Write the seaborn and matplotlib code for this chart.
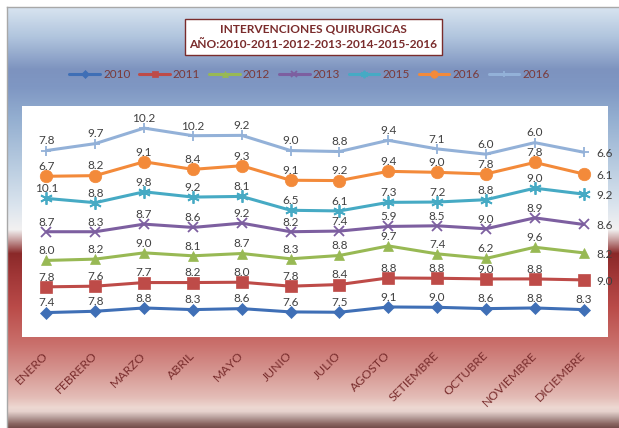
import numpy as np
import pandas as pd
import matplotlib
matplotlib.use("Agg")
import matplotlib.pyplot as plt
import matplotlib.colors as mcolors
import seaborn as sns

months = ['ENERO', 'FEBRERO', 'MARZO', 'ABRIL', 'MAYO', 'JUNIO', 'JULIO',
          'AGOSTO', 'SETIEMBRE', 'OCTUBRE', 'NOVIEMBRE', 'DICIEMBRE']
v2010 = [7.4, 7.8, 8.8, 8.3, 8.6, 7.6, 7.5, 9.1, 9.0, 8.6, 8.8, 8.3]
v2011 = [7.8, 7.6, 7.7, 8.2, 8.0, 7.8, 8.4, 8.8, 8.8, 9.0, 8.8, 9.0]
v2012 = [8.0, 8.2, 9.0, 8.1, 8.7, 8.3, 8.8, 9.7, 7.4, 6.2, 9.6, 8.2]
v2013 = [8.7, 8.3, 8.7, 8.6, 9.2, 8.2, 7.4, 5.9, 8.5, 9.0, 8.9, 8.6]
v2015 = [10.1, 8.8, 9.8, 9.2, 8.1, 6.5, 6.1, 7.3, 7.2, 8.8, 9.0, 9.2]
v2016 = [6.7, 8.2, 9.1, 8.4, 9.3, 9.1, 9.2, 9.4, 9.0, 7.8, 7.8, 6.1]
v2016b = [7.8, 9.7, 10.2, 10.2, 9.2, 9.0, 8.8, 9.4, 7.1, 6.0, 6.0, 6.6]
series_names = ['2010', '2011', '2012', '2013', '2015', '2016', '2016']
series_values = [v2010, v2011, v2012, v2013, v2015, v2016, v2016b]

colors = ['#3F6FB6', '#BE4B48', '#98B954', '#7D5FA0', '#46AAC4', '#F38A3A', '#93B1D8']
markers = ['D', 's', '^', 'x', (6, 2, 0), 'o', '+']
msizes = [6.5, 8, 7.5, 7, 9, 9, 7]

sns.set_theme(style="white")
plt.rcParams['font.family'] = ['Lato', 'DejaVu Sans']

W, H = 619, 428
fig = plt.figure(figsize=(W / 100, H / 100), dpi=100)
fig.patch.set_facecolor('white')

# background gradient of the chart frame
stops = [(0, '#D8E4F0'), (30, '#B0C4DD'), (62, '#7D93BF'), (80, '#7F97C3'),
         (110, '#93AED0'), (160, '#BACDE1'), (200, '#DCE5EE'), (222, '#F2F1F1'),
         (232, '#C9A3A3'), (246, '#8A2929'), (270, '#A23838'), (300, '#BA4B49'),
         (335, '#C96E6A'), (365, '#D69792'), (390, '#E4BDB7'), (400, '#EDD8D2'),
         (404, '#E6D2CD'), (410, '#B8A09C'), (416, '#8C6864'), (421, '#6E4846')]
ys = np.arange(421)
sy = [s[0] for s in stops]
rgb = np.array([mcolors.to_rgb(s[1]) for s in stops])
grad = np.stack([np.interp(ys, sy, rgb[:, k]) for k in range(3)], axis=1)
grad = grad[:, None, :]
bg = fig.add_axes([7 / W, 0, 612 / W, 421 / H])
bg.imshow(grad, aspect='auto', extent=(0, 1, 1, 0), interpolation='bilinear')
bg.set_xlim(0, 1)
bg.set_ylim(1, 0)
bg.set_xticks([])
bg.set_yticks([])
for side in ['right', 'bottom']:
    bg.spines[side].set_visible(False)
for side in ['top', 'left']:
    bg.spines[side].set_color('#A8A8A8')
    bg.spines[side].set_linewidth(1.0)

# plot area
ax = fig.add_axes([22 / W, 1 - 337 / H, 586 / W, 231 / H])
ax.set_facecolor('white')
for s in ax.spines.values():
    s.set_visible(False)

x = np.arange(len(months))
cum = np.cumsum(np.array(series_values), axis=0)
handles = []
for i, (name, vals) in enumerate(zip(series_names, series_values)):
    df = pd.DataFrame({'x': x, 'y': cum[i]})
    thin = markers[i] in ('x', '+') or isinstance(markers[i], tuple)
    sns.lineplot(data=df, x='x', y='y', ax=ax, color=colors[i], linewidth=2.2,
                 marker=markers[i], markersize=msizes[i],
                 markeredgecolor=colors[i], markeredgewidth=1.3 if thin else 0.5,
                 estimator=None, sort=False, zorder=3 + i)
    handles.append(ax.lines[-1])
    for j, v in enumerate(vals):
        if j == len(vals) - 1 and i > 0:
            ax.annotate(f"{v:.1f}", (x[j], cum[i][j]), xytext=(9, -1),
                        textcoords='offset points', ha='left', va='center',
                        fontsize=8.5, color='#404040', zorder=20)
        else:
            ax.annotate(f"{v:.1f}", (x[j], cum[i][j]), xytext=(0, 3),
                        textcoords='offset points', ha='center', va='bottom',
                        fontsize=8.5, color='#404040', zorder=20)

ax.set_xlim(-0.5, len(months) - 0.5)
ax.set_ylim(0, 70)
ax.set_yticks([])
ax.set_xlabel('')
ax.set_ylabel('')
ax.set_xticks(x)
ax.set_xticklabels(months, rotation=45, ha='right', va='center',
                   rotation_mode='anchor', fontsize=8.8, color='#7A2E2E')
ax.tick_params(axis='x', length=0, pad=12)

# legend
leg = fig.legend(handles, series_names, loc='center', ncol=7,
                 bbox_to_anchor=(0.5, 1 - 75 / H), frameon=False,
                 fontsize=8.5, handlelength=2.6, columnspacing=0.75,
                 handletextpad=0.25, markerscale=0.6)
for t in leg.get_texts():
    t.set_color('#7A3A3A')

# title box
fig.text(313.5 / W, 1 - 37 / H,
         "INTERVENCIONES QUIRURGICAS\nAÑO:2010-2011-2012-2013-2014-2015-2016",
         ha='center', va='center', fontsize=8.6, fontweight='bold',
         color='#7A2C2C', linespacing=1.5,
         bbox=dict(boxstyle='square,pad=0.4', facecolor='white',
                   edgecolor='#7A2C2C', linewidth=1.0))

fig.savefig('out.png', dpi=100)
